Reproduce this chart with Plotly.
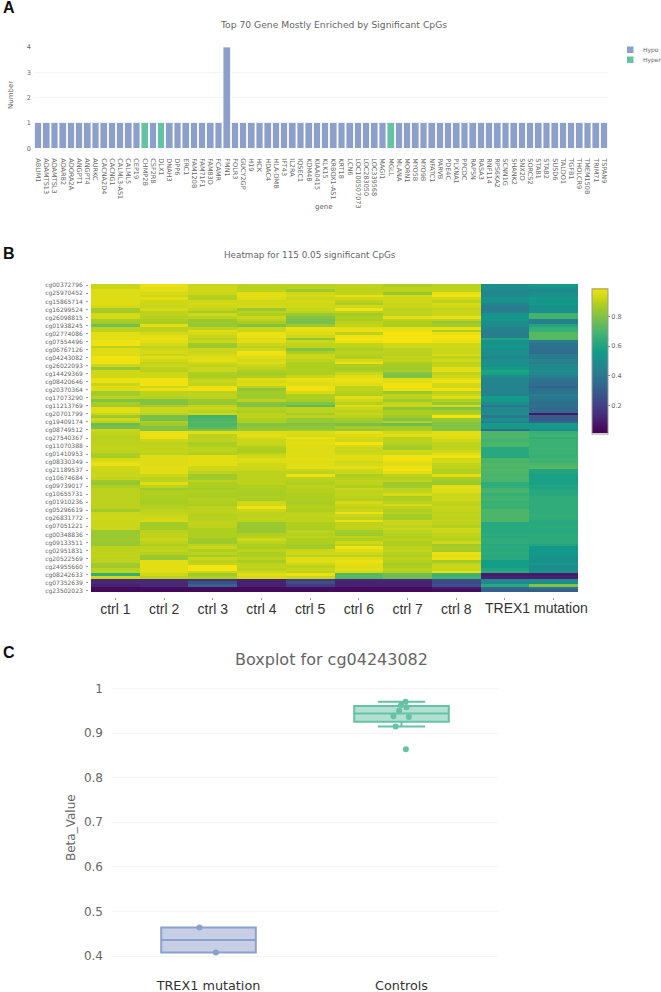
"""Three panel methylation figure: gene bars, CpG heatmap and one CpG boxplot."""

import plotly.graph_objects as go

W = 661
H = 992

HYPO = "#8DA0CB"
HYPER = "#66C2A5"
GRAY = "#666666"
GRID = "#F4F4F4"
FONT = "DejaVu Sans"

# viridis as it looks in the published figure, slightly duller at the yellow end
HEAT_SCALE = [
    [0.0, "#440154"], [0.11, "#482878"], [0.22, "#3e4989"], [0.33, "#31688e"], [0.44, "#26828e"],
    [0.56, "#119c89"], [0.67, "#3ab175"], [0.78, "#74bf4e"], [0.89, "#b0cf1e"], [1.0, "#f7e40f"],
]

# --- Panel A ---
genes = [
    "ABLIM1", "ADAMTS13", "ADAMTSL3", "ADARB2", "ADORA2A", "ANGPT1", "ANGPT4", "AURKC", "CACNA2D4", "CACNG1",
    "CALML3-AS1", "CALML5", "CEP19", "CHMP2B", "CSF2RB", "DLX1", "DNAH3", "DPP6", "ERC1", "FAM120B",
    "FAM71F1", "FAM83D", "FCAMR", "FMN1", "FOLR3", "GUCY2GP", "H19", "HCK", "HDAC4", "HLA-DMB",
    "IFT43", "IL2RA", "IQSEC1", "KDM4B", "KIAA0415", "KLK15", "KRBOX1-AS1", "KRT18", "LCN6", "LOC100507073",
    "LOC283050", "LOC339568", "MAGI1", "MGLL", "MLANA", "MORN1", "MYO5B", "MYO9B", "NFATC1", "PARVB",
    "PDE4C", "PLXNA1", "PPCDC", "RAPSN", "RASA3", "RNF114", "RPS6KA2", "SCNN1G", "SHANK2", "SNX2D",
    "SORCS2", "STAB1", "STAB2", "SUSD6", "TALDO1", "TGFB1", "THOLCR9", "TMEM150B", "TRIM71", "TSPAN9",
]
hyper_genes = ["CHMP2B", "DLX1", "MGLL"]
hyper_counts = [1, 1, 1]
hypo_genes = [g for g in genes if g not in hyper_genes]
hypo_counts = [4 if g == "FMN1" else 1 for g in hypo_genes]

# --- Panel B ---
# the last two columns share one label, written as a note under both ticks
samples = ["ctrl 1", "ctrl 2", "ctrl 3", "ctrl 4", "ctrl 5", "ctrl 6", "ctrl 7", "ctrl 8", "", ""]
cpg_labels = [
    "cg00372796", "cg25970452", "cg15865714", "cg16299524", "cg26098815", "cg01938245", "cg02774086", "cg07554496",
    "cg06767126", "cg04243082", "cg26022093", "cg14429369", "cg08420646", "cg20370364", "cg17073290", "cg11213769",
    "cg20701799", "cg19409174", "cg08749512", "cg27540367", "cg11070388", "cg01410953", "cg08330349", "cg21189537",
    "cg10674684", "cg09739017", "cg10655731", "cg01910236", "cg05296619", "cg26831772", "cg07051221", "cg00348836",
    "cg09133511", "cg02951831", "cg20522569", "cg24955660", "cg08242633", "cg07352639", "cg23502023",
]

ctrl_1 = [
    .92, .92, .95, .95, .95, .95, .95, .95, .94, .86,
    .86, .94, .94, .87, .86, .77, .90, .90, .96, .96,
    .96, .98, .98, .90, .95, .95, .95, .98, .98, .98,
    .92, .83, .93, .93, .93, .97, .97, .92, .95, .95,
    .86, .86, .90, .80, .86, .86, .96, .96, .92, .85,
    .93, .90, .76, .78, .92, .91, .90, .89, .90, .90,
    .91, .91, .90, .87, .87, .94, .96, .97, .93, .93,
    .92, .92, .91, .85, .83, .88, .90, .90, .90, .90,
    .90, .90, .90, .90, .86, .92, .92, .93, .92, .92,
    .92, .92, .84, .84, .84, .85, .84, .84, .90, .90,
    .90, .91, .90, .90, .85, .85, .90, .90, .65, .93,
    .12, .12, .10, .04, .03,
]
ctrl_2 = [
    .97, .96, .96, .94, .93, .96, .93, .92, .92, .94,
    .90, .90, .89, .88, .87, .96, .90, .90, .94, .96,
    .97, .96, .94, .91, .93, .94, .92, .95, .93, .91,
    .92, .90, .89, .93, .93, .98, .98, .98, .93, .97,
    .90, .90, .89, .80, .80, .87, .92, .92, .90, .78,
    .78, .88, .85, .80, .80, .97, .97, .97, .92, .90,
    .91, .91, .91, .90, .95, .95, .95, .95, .96, .96,
    .96, .92, .90, .90, .96, .90, .85, .88, .88, .88,
    .87, .87, .88, .89, .90, .91, .92, .93, .94, .86,
    .86, .86, .90, .91, .90, .92, .90, .88, .90, .91,
    .89, .84, .84, .96, .96, .96, .96, .96, .93, .90,
    .12, .12, .12, .05, .03,
]
ctrl_3 = [
    .92, .93, .93, .92, .89, .89, .93, .94, .93, .91,
    .86, .93, .90, .84, .84, .84, .90, .96, .94, .92,
    .90, .92, .85, .85, .92, .92, .94, .95, .96, .93,
    .91, .92, .92, .88, .87, .90, .92, .91, .97, .98,
    .90, .90, .90, .84, .84, .91, .92, .90, .93, .68,
    .70, .72, .70, .72, .80, .96, .90, .90, .90, .87,
    .88, .90, .90, .88, .96, .96, .96, .96, .93, .93,
    .90, .85, .85, .90, .88, .88, .86, .88, .87, .87,
    .89, .88, .87, .90, .90, .90, .89, .89, .90, .91,
    .90, .88, .88, .88, .88, .85, .85, .90, .92, .88,
    .90, .86, .92, .90, .91, .99, .99, .92, .85, .88,
    .15, .25, .32, .04, .03,
]
ctrl_4 = [
    .90, .89, .90, .96, .96, .95, .93, .93, .94, .84,
    .90, .88, .92, .90, .87, .80, .92, .92, .97, .97,
    .95, .96, .92, .90, .92, .98, .98, .95, .94, .95,
    .92, .90, .88, .86, .88, .96, .94, .95, .90, .83,
    .86, .85, .85, .90, .80, .80, .89, .88, .90, .90,
    .88, .88, .80, .82, .84, .95, .96, .94, .92, .92,
    .90, .88, .87, .91, .93, .95, .95, .93, .93, .92,
    .90, .90, .90, .90, .90, .88, .88, .87, .87, .88,
    .87, .93, .93, .98, .92, .90, .90, .91, .90, .84,
    .84, .84, .84, .88, .89, .93, .90, .88, .87, .90,
    .88, .88, .90, .87, .90, .91, .90, .93, .95, .94,
    .10, .10, .10, .04, .03,
]
ctrl_5 = [
    .90, .90, .85, .93, .94, .92, .94, .93, .93, .92,
    .90, .84, .80, .78, .78, .84, .97, .96, .95, .93,
    .83, .92, .91, .90, .80, .88, .92, .92, .90, .88,
    .88, .88, .88, .88, .92, .97, .96, .95, .98, .98,
    .94, .88, .88, .86, .80, .74, .90, .90, .86, .90,
    .84, .84, .80, .82, .85, .95, .94, .97, .95, .96,
    .95, .95, .95, .95, .95, .96, .95, .95, .96, .92,
    .90, .97, .90, .89, .88, .90, .89, .89, .88, .88,
    .88, .87, .88, .89, .88, .90, .91, .90, .91, .88,
    .88, .87, .90, .89, .90, .88, .88, .86, .86, .92,
    .93, .90, .95, .95, .93, .90, .92, .90, .97, .92,
    .18, .25, .18, .05, .03,
]
ctrl_6 = [
    .91, .90, .90, .91, .97, .93, .90, .87, .93, .98,
    .90, .86, .88, .87, .90, .91, .96, .97, .90, .98,
    .99, .97, .91, .90, .88, .90, .89, .88, .94, .97,
    .88, .86, .88, .92, .95, .97, .97, .95, .91, .90,
    .89, .88, .96, .93, .89, .95, .92, .90, .92, .90,
    .86, .85, .78, .86, .84, .97, .95, .94, .93, .99,
    .94, .92, .92, .93, .95, .95, .93, .94, .96, .93,
    .92, .88, .89, .91, .90, .88, .93, .90, .91, .90,
    .89, .94, .92, .91, .92, .97, .92, .90, .97, .90,
    .91, .90, .86, .85, .90, .88, .93, .90, .98, .95,
    .93, .90, .95, .97, .96, .95, .96, .94, .72, .72,
    .12, .10, .10, .04, .03,
]
ctrl_7 = [
    .88, .90, .90, .84, .94, .93, .93, .92, .92, .90,
    .91, .90, .96, .90, .88, .88, .96, .97, .99, .99,
    .99, .99, .93, .92, .90, .90, .89, .91, .91, .88,
    .86, .85, .87, .80, .79, .95, .96, .98, .99, .97,
    .84, .91, .90, .85, .91, .93, .82, .88, .88, .85,
    .80, .89, .76, .85, .87, .94, .96, .90, .90, .89,
    .87, .85, .93, .92, .98, .98, .96, .95, .97, .99,
    .96, .90, .89, .90, .85, .85, .90, .90, .94, .88,
    .88, .90, .94, .90, .88, .89, .86, .86, .92, .92,
    .90, .92, .90, .89, .88, .90, .88, .88, .90, .91,
    .89, .88, .90, .89, .86, .88, .90, .88, .76, .76,
    .12, .10, .10, .04, .03,
]
ctrl_8 = [
    .90, .90, .90, .97, .98, .93, .90, .94, .93, .91,
    .92, .92, .97, .90, .83, .86, .97, .88, .97, .99,
    .98, .97, .93, .93, .92, .92, .94, .91, .93, .90,
    .91, .96, .96, .91, .92, .96, .98, .94, .93, .98,
    .90, .92, .95, .88, .84, .94, .80, .86, .88, .99,
    .84, .82, .80, .80, .80, .96, .96, .95, .93, .90,
    .90, .91, .93, .96, .98, .93, .94, .91, .90, .89,
    .89, .96, .87, .85, .84, .96, .95, .95, .92, .92,
    .93, .91, .90, .92, .91, .90, .91, .90, .91, .90,
    .89, .93, .92, .91, .90, .89, .93, .85, .87, .86,
    .97, .96, .97, .86, .91, .92, .92, .97, .68, .68,
    .25, .22, .25, .08, .04,
]
trex1_a = [
    .50, .50, .47, .47, .47, .52, .52, .45, .42, .42,
    .42, .52, .53, .53, .50, .47, .45, .42, .42, .43,
    .60, .52, .52, .53, .50, .50, .52, .46, .50, .50,
    .52, .55, .60, .58, .50, .45, .46, .45, .44, .44,
    .45, .45, .55, .56, .48, .40, .47, .47, .50, .40,
    .50, .42, .55, .55, .35, .70, .70, .70, .68, .70,
    .70, .62, .62, .62, .62, .70, .69, .71, .70, .71,
    .70, .69, .70, .69, .64, .64, .68, .70, .66, .68,
    .68, .66, .68, .66, .70, .70, .70, .70, .70, .62,
    .62, .62, .62, .63, .62, .64, .64, .62, .63, .62,
    .63, .62, .62, .57, .57, .57, .60, .62, .08, .10,
    .45, .47, .62, .33, .30,
]
trex1_b = [
    .55, .52, .47, .50, .50, .55, .53, .55, .52, .50,
    .50, .68, .68, .43, .43, .60, .65, .66, .72, .72,
    .72, .42, .38, .37, .37, .35, .43, .41, .45, .43,
    .47, .47, .50, .47, .42, .38, .37, .36, .32, .37,
    .38, .42, .40, .38, .36, .37, .34, .34, .07, .28,
    .28, .32, .55, .55, .48, .66, .68, .64, .67, .67,
    .67, .67, .67, .67, .66, .68, .67, .70, .72, .60,
    .60, .58, .58, .58, .58, .60, .60, .62, .62, .64,
    .64, .64, .64, .64, .64, .64, .65, .64, .62, .62,
    .63, .62, .62, .63, .63, .63, .63, .60, .54, .54,
    .56, .53, .52, .50, .56, .48, .50, .52, .08, .10,
    .48, .50, .80, .40, .30,
]
columns = [ctrl_1, ctrl_2, ctrl_3, ctrl_4, ctrl_5, ctrl_6, ctrl_7, ctrl_8, trex1_a, trex1_b]
z = [list(row) for row in zip(*columns)]
row_ids = list(range(115))

# --- Panel C ---
box_groups = ["TREX1 mutation", "Controls"]
trex1_beta = [0.464, 0.408]
control_beta = [0.970, 0.963, 0.958, 0.950, 0.938, 0.936, 0.915, 0.864]


def fx(px):
    return px / W


def fy(px):
    return 1 - px / H


def note(text, x, y, size, color=GRAY, family=FONT, xanchor="center", angle=0):
    return dict(
        text=text, x=fx(x), y=fy(y), xref="paper", yref="paper", showarrow=False,
        xanchor=xanchor, yanchor="middle", textangle=angle,
        font=dict(size=size, color=color, family=family),
    )


fig = go.Figure()

fig.add_trace(go.Bar(x=hypo_genes, y=hypo_counts, name="Hypo", marker_color=HYPO, xaxis="x", yaxis="y"))
fig.add_trace(go.Bar(x=hyper_genes, y=hyper_counts, name="Hyper", marker_color=HYPER, xaxis="x", yaxis="y"))

fig.add_trace(go.Heatmap(
    x=list(range(10)), y=row_ids, z=z,
    colorscale=HEAT_SCALE, zmin=0.01, zmax=0.99,
    xaxis="x2", yaxis="y2",
    colorbar=dict(
        x=fx(592), xanchor="left", xpad=0,
        y=fy(288.5), yanchor="top", ypad=0,
        len=145 / H, thickness=16,
        tickvals=[0.2, 0.4, 0.6, 0.8], ticks="outside", ticklen=2, tickcolor="#888888",
        tickfont=dict(size=6.5, color=GRAY, family=FONT),
        outlinecolor="#999999", outlinewidth=1,
    ),
))

for name, values, color in [(box_groups[0], trex1_beta, HYPO), (box_groups[1], control_beta, HYPER)]:
    fig.add_trace(go.Box(
        x=[name] * len(values), y=values, name=name,
        boxpoints="all", jitter=0.3, pointpos=0, quartilemethod="exclusive",
        marker=dict(color=color, size=6), line=dict(color=color, width=2),
        xaxis="x3", yaxis="y3",
    ))

layout_annotations = [
    note("<b>A</b>", 1, 7, 16, "#111111", "Liberation Sans", "left"),
    note("<b>B</b>", 1, 253, 16, "#111111", "Liberation Sans", "left"),
    note("<b>C</b>", 1, 652, 16, "#111111", "Liberation Sans", "left"),
    note("Top 70 Gene Mostly Enriched by Significant CpGs", 333, 25, 9.2),
    note("Heatmap for 115 0.05 significant CpGs", 310, 255, 8.8),
    note("Boxplot for cg04243082", 331, 659, 16),
    note("TREX1 mutation", 536, 608, 14, "#333333", "Liberation Sans"),
    note("Number", 11, 95, 7, angle=-90),
    note("gene", 324, 207, 7),
    note("Beta_Value", 71, 828, 12, angle=-90),
    note("Hypo", 640.5, 50, 6, xanchor="left"),
    note("Hyper", 640.5, 60, 6, xanchor="left"),
]

legend_swatches = [
    dict(type="rect", xref="paper", yref="paper", x0=fx(627), x1=fx(633.5), y0=fy(53), y1=fy(46.5),
         fillcolor=HYPO, line_width=0),
    dict(type="rect", xref="paper", yref="paper", x0=fx(627), x1=fx(633.5), y0=fy(63), y1=fy(56.5),
         fillcolor=HYPER, line_width=0),
]

fig.update_layout(
    width=W, height=H,
    autosize=False,
    margin=dict(l=0, r=0, t=0, b=0, autoexpand=False),
    paper_bgcolor="white", plot_bgcolor="white",
    showlegend=False,
    barmode="stack", bargap=0.18,
    boxmode="overlay",
    annotations=layout_annotations,
    shapes=legend_swatches,
    xaxis=dict(
        domain=[fx(34), fx(608)], anchor="y",
        categoryorder="array", categoryarray=genes, tickmode="array", tickvals=genes,
        tickangle=90, tickfont=dict(size=6.5, color=GRAY, family=FONT),
        showgrid=False, ticks="", ticklabelstandoff=9, showline=False,
    ),
    yaxis=dict(
        domain=[fy(148.3), fy(47)], anchor="x", range=[0, 4], tickvals=[0, 1, 2, 3, 4],
        tickfont=dict(size=6.5, color=GRAY, family=FONT), gridcolor=GRID, zeroline=False, ticklabelstandoff=2,
    ),
    xaxis2=dict(
        domain=[fx(91), fx(578)], anchor="free", position=fy(597), range=[-0.5, 9.5],
        tickvals=list(range(10)), ticktext=samples, tickangle=0,
        tickfont=dict(size=14, color="#333333", family="Liberation Sans"),
        ticks="outside", ticklen=2, tickcolor="#999999", showgrid=False, zeroline=False,
        ticklabelstandoff=-3,
    ),
    yaxis2=dict(
        domain=[fy(592), fy(284)], anchor="free", position=fx(88), range=[114.5, -0.5],
        tickvals=row_ids[::3], ticktext=cpg_labels,
        tickfont=dict(size=6, color=GRAY, family=FONT),
        ticks="outside", ticklen=2, tickcolor="#999999", showgrid=False, zeroline=False,
        ticklabelstandoff=2,
    ),
    xaxis3=dict(
        domain=[fx(112), fx(498)], anchor="y3", type="category",
        categoryorder="array", categoryarray=box_groups, tickangle=0,
        tickfont=dict(size=12.8, color="#333333", family=FONT),
        showgrid=False, zeroline=False, ticks="", ticklabelstandoff=11,
    ),
    yaxis3=dict(
        domain=[fy(965), fy(680)], anchor="x3", range=[0.38, 1.019], tickvals=[0.4, 0.5, 0.6, 0.7, 0.8, 0.9, 1],
        ticktext=["0.4", "0.5", "0.6", "0.7", "0.8", "0.9", "1"],
        tickfont=dict(size=12, color=GRAY, family=FONT), gridcolor=GRID, zeroline=False, ticklabelstandoff=8,
    ),
)

fig.write_html("out.html", config={"displayModeBar": False}, post_script="document.body.style.margin='0';")
